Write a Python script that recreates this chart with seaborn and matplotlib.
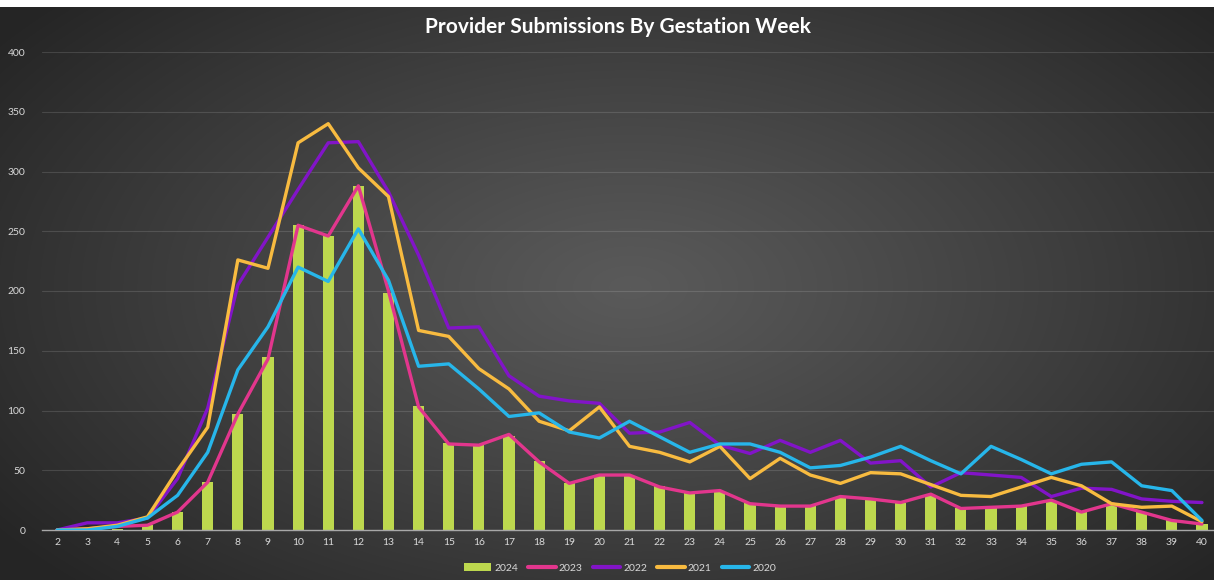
"""Provider submissions by gestation week: 2024 bars vs 2020-2023 lines."""
import matplotlib
matplotlib.use("Agg")  # headless

import matplotlib.pyplot as plt
import numpy as np
import pandas as pd
import seaborn as sns
from matplotlib.lines import Line2D
from matplotlib.patches import Patch

# ---------------------------------------------------------------------------
# Data
# ---------------------------------------------------------------------------
weeks = [2, 3, 4, 5, 6, 7, 8, 9, 10, 11, 12, 13, 14, 15, 16, 17, 18, 19, 20, 21,
         22, 23, 24, 25, 26, 27, 28, 29, 30, 31, 32, 33, 34, 35, 36, 37, 38, 39, 40]

sub_2024 = [0, 0, 1, 4, 15, 40, 97, 145, 255, 246, 288, 198, 104, 73, 71, 79, 58, 39, 45, 45,
            37, 31, 32, 23, 19, 20, 28, 26, 23, 29, 18, 18, 20, 24, 15, 21, 15, 8, 5]
sub_2023 = [0, 1, 3, 4, 15, 40, 97, 143, 255, 246, 288, 200, 103, 72, 71, 80, 57, 39, 46, 46,
            36, 31, 33, 22, 20, 20, 28, 26, 23, 30, 18, 19, 20, 25, 15, 22, 15, 8, 5]
sub_2022 = [0, 6, 6, 10, 43, 102, 205, 245, 285, 324, 325, 283, 230, 169, 170, 129, 112, 108, 106, 81,
            82, 90, 71, 64, 75, 65, 75, 56, 58, 36, 48, 46, 44, 28, 35, 34, 26, 24, 23]
sub_2021 = [0, 1, 4, 11, 50, 86, 226, 219, 324, 340, 303, 279, 167, 162, 135, 118, 91, 83, 103, 70,
            65, 57, 70, 43, 60, 46, 39, 48, 47, 38, 29, 28, 36, 44, 37, 22, 19, 20, 7]
sub_2020 = [0, 0, 3, 10, 29, 65, 134, 170, 220, 208, 252, 209, 137, 139, 118, 95, 98, 82, 77, 91,
            78, 65, 72, 72, 65, 52, 54, 61, 70, 58, 47, 70, 59, 47, 55, 57, 37, 33, 8]

line_years = ["2023", "2022", "2021", "2020"]
y_ticks = [0, 50, 100, 150, 200, 250, 300, 350, 400]

BAR_COLOR = "#bdd84e"
LINE_COLORS = {"2023": "#e2368d", "2022": "#8214c8", "2021": "#f8bb40", "2020": "#27b6ea"}
TEXT_COLOR = "#d9d9d9"

lines_df = pd.DataFrame({
    "week": weeks,
    "2023": sub_2023,
    "2022": sub_2022,
    "2021": sub_2021,
    "2020": sub_2020,
}).melt(id_vars="week", var_name="year", value_name="count")

# ---------------------------------------------------------------------------
# Figure
# ---------------------------------------------------------------------------
sns.set_theme(style="dark")
plt.rcParams["font.family"] = ["Lato", "DejaVu Sans"]

W, H = 1214, 580
fig = plt.figure(figsize=(W / 100, H / 100), dpi=100, facecolor="white")

# radial dark-grey gradient behind the chart (white strip on top like the source)
bg = fig.add_axes([0, 0, 1, 573 / H])
yy, xx = np.mgrid[0:573, 0:W]
r = np.sqrt(((xx - 630) / 780.0) ** 2 + ((yy - 280) / 430.0) ** 2)
r = np.clip(r, 0, 1) ** 1.1
light, dark = 0x5a / 255, 0x25 / 255
shade = light + (dark - light) * r
bg.imshow(np.dstack([shade] * 3), aspect="auto", interpolation="bilinear")
bg.axis("off")

ax = fig.add_axes([42 / W, 50 / H, 1172 / W, 478 / H])
ax.patch.set_alpha(0)

sns.barplot(x=weeks, y=sub_2024, native_scale=True, width=0.37, color=BAR_COLOR,
            saturation=1, errorbar=None, linewidth=0, edgecolor="none", ax=ax, zorder=2)
sns.lineplot(data=lines_df, x="week", y="count", hue="year", hue_order=line_years,
             palette=LINE_COLORS, linewidth=2.4, legend=False, ax=ax, zorder=3)

ax.set_xlim(1.5, 40.4)
ax.set_ylim(0, 400)
ax.set_xticks(weeks)
ax.set_xticklabels([str(w) for w in weeks])
ax.set_yticks(y_ticks)
ax.set_yticklabels([str(v) for v in y_ticks])
ax.tick_params(axis="both", length=0, labelsize=7.5, colors=TEXT_COLOR)
ax.tick_params(axis="y", pad=12)
ax.tick_params(axis="x", pad=6)
ax.set_xlabel("")
ax.set_ylabel("")

ax.yaxis.grid(True, color="white", alpha=0.13, lw=0.8)
ax.xaxis.grid(False)
ax.set_axisbelow(True)
for side in ["top", "right", "left"]:
    ax.spines[side].set_visible(False)
ax.spines["bottom"].set_color("#a8a8a8")
ax.spines["bottom"].set_linewidth(1.0)

fig.text(618 / W, 1 - 27 / H, "Provider Submissions By Gestation Week",
         ha="center", va="center", fontsize=15, fontweight="bold", color="white")

handles = [Patch(facecolor=BAR_COLOR, edgecolor="none")]
handles += [Line2D([], [], color=LINE_COLORS[y], lw=3) for y in line_years]
labels = ["2024"] + line_years
fig.legend(handles, labels, loc="center", bbox_to_anchor=(620 / W, 1 - 568 / H),
           ncol=5, frameon=False, fontsize=7.5, labelcolor=TEXT_COLOR,
           handlelength=2.6, handletextpad=0.3, columnspacing=1.0)

fig.savefig("out.png", dpi=100, facecolor=fig.get_facecolor())
